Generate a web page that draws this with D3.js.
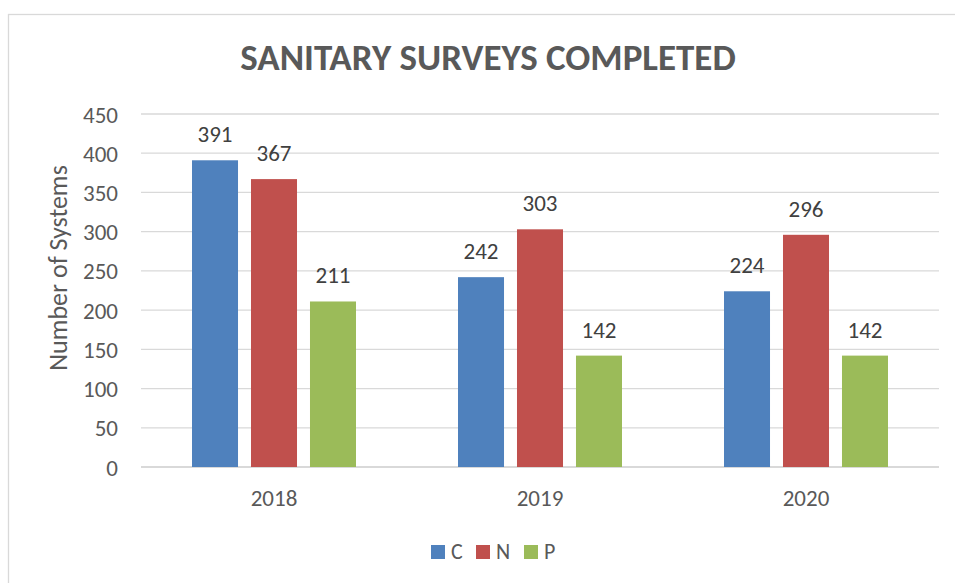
<!DOCTYPE html>
<html>
<head>
<meta charset="utf-8">
<script src="https://cdn.jsdelivr.net/npm/d3@7"></script>
<style>
  body { margin: 0; background: #fff; }
  text { font-family: Carlito, Calibri, "Open Sans", sans-serif; }
</style>
</head>
<body>
<script>
// chart values
var years = ["2018", "2019", "2020"];
var seriesNames = ["C", "N", "P"];
var valuesC = [391, 242, 224];
var valuesN = [367, 303, 296];
var valuesP = [211, 142, 142];
var yTicks = [0, 50, 100, 150, 200, 250, 300, 350, 400, 450];
var colors = ["#4f81bd", "#c0504d", "#9bbb59"];

var W = 955, H = 583;
var plot = {left: 141, right: 939, top: 114, bottom: 467};
var FONT = "Carlito, Calibri, 'Open Sans', sans-serif";

var svg = d3.select("body").append("svg")
    .attr("width", W)
    .attr("height", H);

// outer chart border (right/bottom edges fall outside the picture)
svg.append("rect")
    .attr("x", 8.5).attr("y", 14.5)
    .attr("width", 962).attr("height", 600)
    .attr("fill", "#fff")
    .attr("stroke", "#d9d9d9")
    .attr("stroke-width", 1.3);

var rows = years.map(function(y, i) {
  return {year: y, vals: [valuesC[i], valuesN[i], valuesP[i]]};
});

var x0 = d3.scaleBand().domain(years).range([plot.left, plot.right]).padding(0);
var x1 = d3.scaleBand().domain(seriesNames)
    .range([51, x0.bandwidth() - 51])
    .paddingInner(0.22).paddingOuter(0);
var y = d3.scaleLinear().domain([0, 450]).range([plot.bottom, plot.top]);

// gridlines
svg.append("g").selectAll("line")
  .data(yTicks)
  .enter().append("line")
    .attr("x1", plot.left).attr("x2", plot.right)
    .attr("y1", function(d) { return y(d); })
    .attr("y2", function(d) { return y(d); })
    .attr("stroke", "#d9d9d9")
    .attr("stroke-width", function(d) { return d == 0 ? 2 : 1.3; });

// y axis labels
var yAxis = d3.axisLeft(y).tickValues(yTicks).tickSize(0).tickPadding(0);
var ya = svg.append("g").attr("transform", "translate(118,0)").call(yAxis);
ya.select(".domain").remove();
ya.selectAll("text")
    .attr("font-size", "23px")
    .attr("fill", "#595959")
    .attr("font-family", FONT)
    .attr("dy", "0.35em");

// x axis labels
var xAxis = d3.axisBottom(x0).tickSize(0).tickPadding(0);
var xa = svg.append("g").attr("transform", "translate(0,467)").call(xAxis);
xa.select(".domain").remove();
xa.selectAll("text")
    .attr("y", 39)
    .attr("dy", 0)
    .attr("font-size", "23px")
    .attr("fill", "#595959")
    .attr("font-family", FONT);

// bars
var groups = svg.append("g").selectAll("g")
  .data(rows)
  .enter().append("g")
    .attr("transform", function(d) { return "translate(" + x0(d.year) + ",0)"; });

groups.selectAll("rect")
  .data(function(d) { return d.vals.map(function(v, i) { return {s: seriesNames[i], v: v, i: i}; }); })
  .enter().append("rect")
    .attr("x", function(d) { return x1(d.s); })
    .attr("y", function(d) { return y(d.v); })
    .attr("width", x1.bandwidth())
    .attr("height", function(d) { return y(0) - y(d.v); })
    .attr("fill", function(d) { return colors[d.i]; });

groups.selectAll("text")
  .data(function(d) { return d.vals.map(function(v, i) { return {s: seriesNames[i], v: v}; }); })
  .enter().append("text")
    .attr("x", function(d) { return x1(d.s) + x1.bandwidth() / 2; })
    .attr("y", function(d) { return y(d.v) - 18; })
    .attr("text-anchor", "middle")
    .attr("font-size", "23px")
    .attr("fill", "#404040")
    .text(function(d) { return d.v; });

// title
svg.append("text")
    .attr("x", 488).attr("y", 70)
    .attr("text-anchor", "middle")
    .attr("font-size", "37px")
    .attr("font-weight", "bold")
    .attr("fill", "#595959")
    .text("SANITARY SURVEYS COMPLETED");

// y axis title
svg.append("text")
    .attr("transform", "translate(67,268) rotate(-90)")
    .attr("text-anchor", "middle")
    .attr("font-size", "26px")
    .attr("fill", "#595959")
    .text("Number of Systems");

// legend
var legendX = [431, 476, 524];
var legend = svg.append("g").selectAll("g")
  .data(seriesNames)
  .enter().append("g")
    .attr("transform", function(d, i) { return "translate(" + legendX[i] + ",545)"; });
legend.append("rect")
    .attr("width", 14).attr("height", 14)
    .attr("fill", function(d, i) { return colors[i]; });
legend.append("text")
    .attr("x", 20).attr("y", 14)
    .attr("font-size", "22px")
    .attr("fill", "#595959")
    .text(function(d) { return d; });
</script>
</body>
</html>
